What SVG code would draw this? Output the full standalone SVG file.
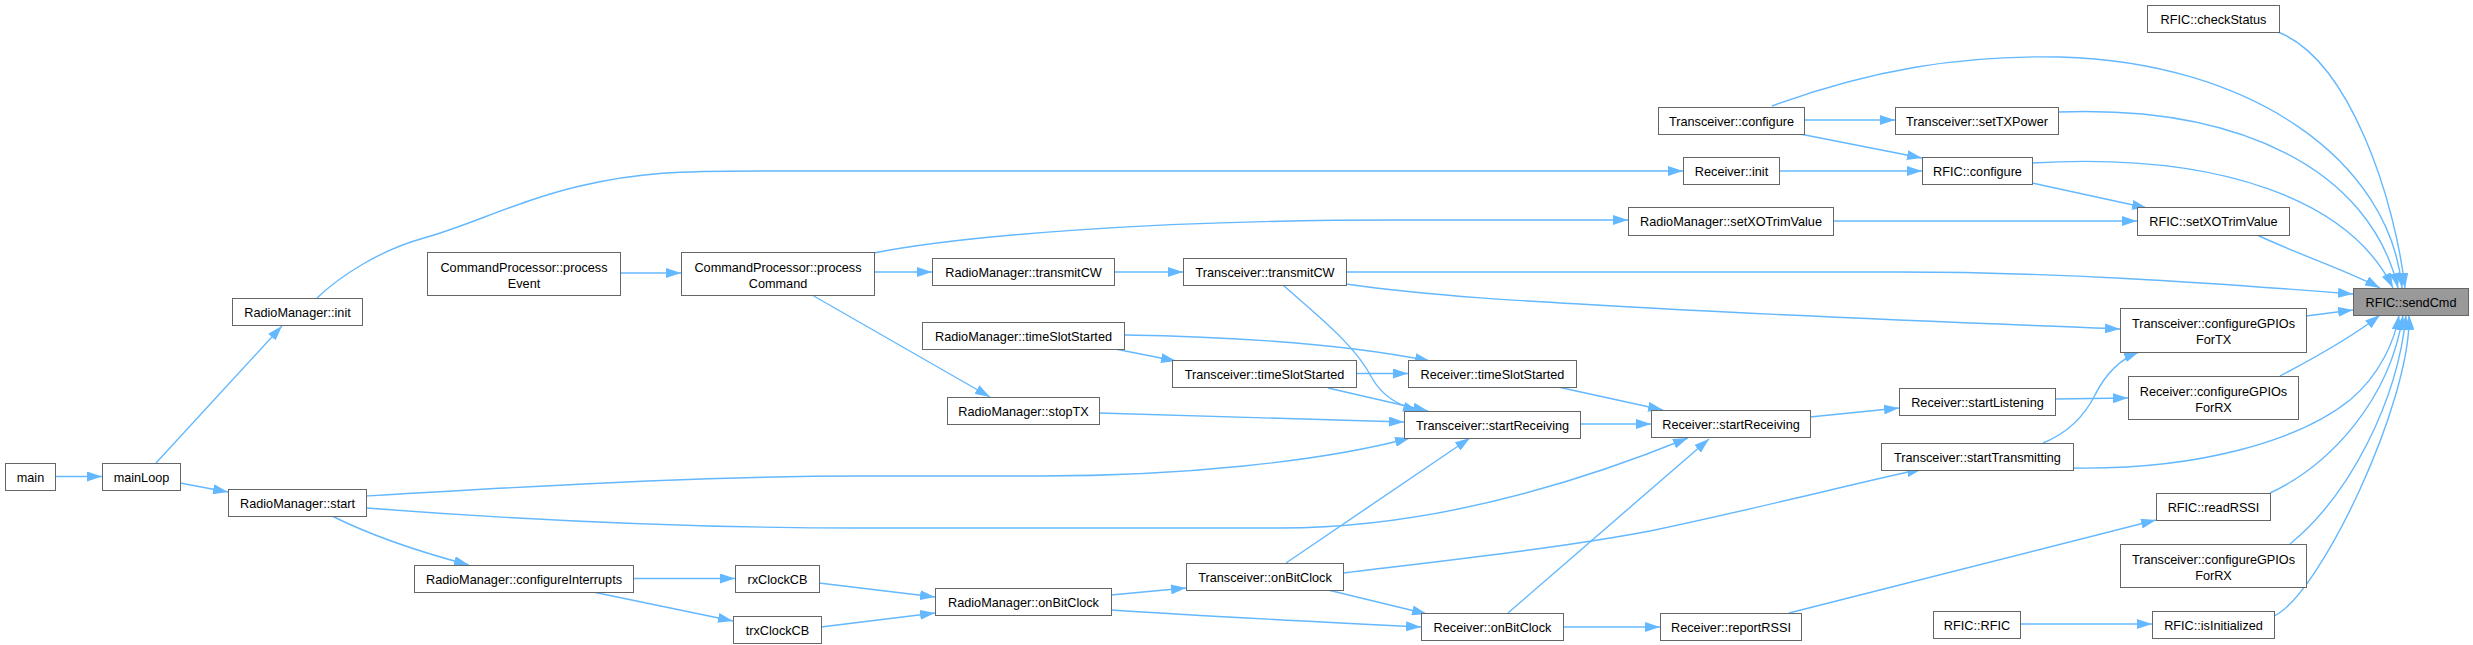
<svg xmlns="http://www.w3.org/2000/svg" width="2473" height="645" viewBox="0 0 2473 645">
<style>
.node rect{fill:#ffffff;stroke:#666666;stroke-width:1}
.node.hl rect{fill:#999999}
.node text{font-family:"Liberation Sans",Arial,sans-serif;font-size:12.7px;text-anchor:middle;fill:#000000}
.edge{fill:none;stroke:#63b8ff;stroke-width:1.4;marker-end:url(#arrow)}
</style>
<defs>
<marker id="arrow" viewBox="0 0 15 10" refX="15" refY="5" markerWidth="15" markerHeight="10" markerUnits="userSpaceOnUse" orient="auto">
<path d="M0,0 L15,5 L0,10 z" fill="#63b8ff"/>
</marker>
</defs>
<rect width="2473" height="645" fill="#ffffff"/>
<g id="connectors">
<path class="edge" d="M55,476.5 L102,476.5"/>
<path class="edge" d="M156,463 L282,326"/>
<path class="edge" d="M180,483 L228,492"/>
<path class="edge" d="M317,298 C340,276 380,250 424,238 S520,200 580,186 S680,171 760,171 L1683,171"/>
<path class="edge" d="M366,496 C500,488 700,476 860,476 L1040,476 C1180,476 1320,462 1410,438"/>
<path class="edge" d="M366,508 C550,522 700,528 860,528 L1280,528 C1420,528 1560,490 1688,438"/>
<path class="edge" d="M332,516 C370,535 420,552 469,565"/>
<path class="edge" d="M620,273 L681,273"/>
<path class="edge" d="M874,272 L932,272"/>
<path class="edge" d="M874,253 C960,236 1150,220 1400,220 L1628,220"/>
<path class="edge" d="M812,295 L990,397"/>
<path class="edge" d="M1114,272 L1183,272"/>
<path class="edge" d="M633,578.5 L735,578.5"/>
<path class="edge" d="M593,592 L733,621"/>
<path class="edge" d="M819,583 L935,597"/>
<path class="edge" d="M821,627 L935,613"/>
<path class="edge" d="M1110,348 L1176,361"/>
<path class="edge" d="M1124,335 C1250,337 1350,345 1430,361"/>
<path class="edge" d="M1356,373.5 L1408,373.5"/>
<path class="edge" d="M1328,388 L1428,411"/>
<path class="edge" d="M1283,285 C1320,318 1355,345 1372,378 C1382,396 1398,405 1418,411"/>
<path class="edge" d="M1346,272 L1900,272 C2050,272 2200,282 2353,294"/>
<path class="edge" d="M1346,284 C1430,296 1520,301 1650,308 C1850,319 2000,324 2120,329"/>
<path class="edge" d="M1099,413 L1404,422"/>
<path class="edge" d="M1558,387 L1663,410"/>
<path class="edge" d="M1580,424 L1651,424"/>
<path class="edge" d="M1111,595 L1186,588"/>
<path class="edge" d="M1111,610 C1200,616 1320,622 1421,627"/>
<path class="edge" d="M1286,563 L1470,438"/>
<path class="edge" d="M1328,590 L1427,614"/>
<path class="edge" d="M1343,573 C1450,560 1560,548 1650,531 C1760,508 1860,482 1922,469"/>
<path class="edge" d="M1508,613 L1709,439"/>
<path class="edge" d="M1563,627 L1660,627"/>
<path class="edge" d="M1810,417 L1899,408"/>
<path class="edge" d="M2055,399 L2128,398"/>
<path class="edge" d="M2043,443 C2070,432 2085,415 2095,395 C2105,375 2118,360 2139,352"/>
<path class="edge" d="M2073,468 C2200,470 2300,440 2350,400 C2380,375 2395,340 2399,315"/>
<path class="edge" d="M2280,376 C2320,355 2355,335 2380,315"/>
<path class="edge" d="M2270,493 C2330,465 2390,400 2403,315"/>
<path class="edge" d="M2290,544 C2350,495 2398,400 2406,315"/>
<path class="edge" d="M2274,616 C2320,595 2412,400 2409,315"/>
<path class="edge" d="M2278,32 C2350,60 2395,200 2405,288"/>
<path class="edge" d="M1772,106 C1870,70 1960,55 2060,57 C2250,62 2390,160 2402,288"/>
<path class="edge" d="M2058,112 C2240,105 2370,170 2398,288"/>
<path class="edge" d="M2032,163 C2220,152 2350,200 2393,288"/>
<path class="edge" d="M2257,235 C2300,255 2350,272 2380,288"/>
<path class="edge" d="M2306,316 L2353,310"/>
<path class="edge" d="M1833,221 L2137,221"/>
<path class="edge" d="M2032,183 L2147,208"/>
<path class="edge" d="M1779,171 L1922,171"/>
<path class="edge" d="M1800,134 L1922,158"/>
<path class="edge" d="M1804,120 L1895,120"/>
<path class="edge" d="M1789,613 L2156,520"/>
<path class="edge" d="M2020,624 L2152,624"/>
</g>
<g id="n_main" class="node"><rect x="5.5" y="463.5" width="50" height="27"/><text x="30.5" y="481.5">main</text></g>
<g id="n_mainLoop" class="node"><rect x="102.5" y="463.5" width="78" height="27"/><text x="141.5" y="481.5">mainLoop</text></g>
<g id="n_RM_init" class="node"><rect x="232.5" y="298.5" width="130" height="27"/><text x="297.5" y="316.5">RadioManager::init</text></g>
<g id="n_RM_start" class="node"><rect x="228.5" y="489.5" width="138" height="27"/><text x="297.5" y="507.5">RadioManager::start</text></g>
<g id="n_CP_processEvent" class="node"><rect x="427.5" y="252.5" width="193" height="43"/><text x="524" y="271.5">CommandProcessor::process</text><text x="524" y="287.5">Event</text></g>
<g id="n_CP_processCommand" class="node"><rect x="681.5" y="252.5" width="193" height="43"/><text x="778" y="271.5">CommandProcessor::process</text><text x="778" y="287.5">Command</text></g>
<g id="n_RM_configureInterrupts" class="node"><rect x="414.5" y="565.5" width="219" height="27"/><text x="524" y="583.5">RadioManager::configureInterrupts</text></g>
<g id="n_rxClockCB" class="node"><rect x="735.5" y="565.5" width="84" height="27"/><text x="777.5" y="583.5">rxClockCB</text></g>
<g id="n_trxClockCB" class="node"><rect x="733.5" y="616.5" width="88" height="27"/><text x="777.5" y="634.5">trxClockCB</text></g>
<g id="n_RM_transmitCW" class="node"><rect x="932.5" y="258.5" width="182" height="27"/><text x="1023.5" y="276.5">RadioManager::transmitCW</text></g>
<g id="n_RM_timeSlotStarted" class="node"><rect x="922.5" y="322.5" width="202" height="27"/><text x="1023.5" y="340.5">RadioManager::timeSlotStarted</text></g>
<g id="n_RM_stopTX" class="node"><rect x="947.5" y="397.5" width="152" height="27"/><text x="1023.5" y="415.5">RadioManager::stopTX</text></g>
<g id="n_RM_onBitClock" class="node"><rect x="935.5" y="588.5" width="176" height="27"/><text x="1023.5" y="606.5">RadioManager::onBitClock</text></g>
<g id="n_T_transmitCW" class="node"><rect x="1183.5" y="258.5" width="163" height="27"/><text x="1265" y="276.5">Transceiver::transmitCW</text></g>
<g id="n_T_timeSlotStarted" class="node"><rect x="1172.5" y="360.5" width="184" height="27"/><text x="1264.5" y="378.5">Transceiver::timeSlotStarted</text></g>
<g id="n_T_onBitClock" class="node"><rect x="1186.5" y="563.5" width="157" height="27"/><text x="1265" y="581.5">Transceiver::onBitClock</text></g>
<g id="n_R_timeSlotStarted" class="node"><rect x="1408.5" y="360.5" width="168" height="27"/><text x="1492.5" y="378.5">Receiver::timeSlotStarted</text></g>
<g id="n_T_startReceiving" class="node"><rect x="1404.5" y="411.5" width="176" height="27"/><text x="1492.5" y="429.5">Transceiver::startReceiving</text></g>
<g id="n_R_onBitClock" class="node"><rect x="1421.5" y="613.5" width="142" height="27"/><text x="1492.5" y="631.5">Receiver::onBitClock</text></g>
<g id="n_R_startReceiving" class="node"><rect x="1651.5" y="410.5" width="159" height="27"/><text x="1731" y="428.5">Receiver::startReceiving</text></g>
<g id="n_T_configure" class="node"><rect x="1658.5" y="107.5" width="146" height="27"/><text x="1731.5" y="125.5">Transceiver::configure</text></g>
<g id="n_R_init" class="node"><rect x="1683.5" y="157.5" width="96" height="27"/><text x="1731.5" y="175.5">Receiver::init</text></g>
<g id="n_RM_setXOTrimValue" class="node"><rect x="1628.5" y="207.5" width="205" height="28"/><text x="1731" y="226">RadioManager::setXOTrimValue</text></g>
<g id="n_R_startListening" class="node"><rect x="1899.5" y="388.5" width="156" height="27"/><text x="1977.5" y="406.5">Receiver::startListening</text></g>
<g id="n_T_startTransmitting" class="node"><rect x="1881.5" y="443.5" width="192" height="27"/><text x="1977.5" y="461.5">Transceiver::startTransmitting</text></g>
<g id="n_R_reportRSSI" class="node"><rect x="1660.5" y="613.5" width="141" height="27"/><text x="1731" y="631.5">Receiver::reportRSSI</text></g>
<g id="n_RFIC_RFIC" class="node"><rect x="1933.5" y="611.5" width="87" height="27"/><text x="1977" y="629.5">RFIC::RFIC</text></g>
<g id="n_T_setTXPower" class="node"><rect x="1895.5" y="107.5" width="163" height="27"/><text x="1977" y="125.5">Transceiver::setTXPower</text></g>
<g id="n_RFIC_configure" class="node"><rect x="1922.5" y="157.5" width="110" height="27"/><text x="1977.5" y="175.5">RFIC::configure</text></g>
<g id="n_RFIC_checkStatus" class="node"><rect x="2147.5" y="5.5" width="132" height="27"/><text x="2213.5" y="23.5">RFIC::checkStatus</text></g>
<g id="n_RFIC_setXOTrimValue" class="node"><rect x="2137.5" y="207.5" width="152" height="28"/><text x="2213.5" y="226">RFIC::setXOTrimValue</text></g>
<g id="n_RFIC_sendCmd" class="node hl"><rect x="2353.5" y="288.5" width="115" height="27"/><text x="2411" y="306.5">RFIC::sendCmd</text></g>
<g id="n_T_configureGPIOsForTX" class="node"><rect x="2120.5" y="308.5" width="186" height="44"/><text x="2213.5" y="328">Transceiver::configureGPIOs</text><text x="2213.5" y="344">ForTX</text></g>
<g id="n_R_configureGPIOsForRX" class="node"><rect x="2128.5" y="376.5" width="170" height="43"/><text x="2213.5" y="395.5">Receiver::configureGPIOs</text><text x="2213.5" y="411.5">ForRX</text></g>
<g id="n_RFIC_readRSSI" class="node"><rect x="2156.5" y="493.5" width="114" height="27"/><text x="2213.5" y="511.5">RFIC::readRSSI</text></g>
<g id="n_T_configureGPIOsForRX" class="node"><rect x="2120.5" y="544.5" width="186" height="43"/><text x="2213.5" y="563.5">Transceiver::configureGPIOs</text><text x="2213.5" y="579.5">ForRX</text></g>
<g id="n_RFIC_isInitialized" class="node"><rect x="2152.5" y="611.5" width="122" height="27"/><text x="2213.5" y="629.5">RFIC::isInitialized</text></g>
</svg>
